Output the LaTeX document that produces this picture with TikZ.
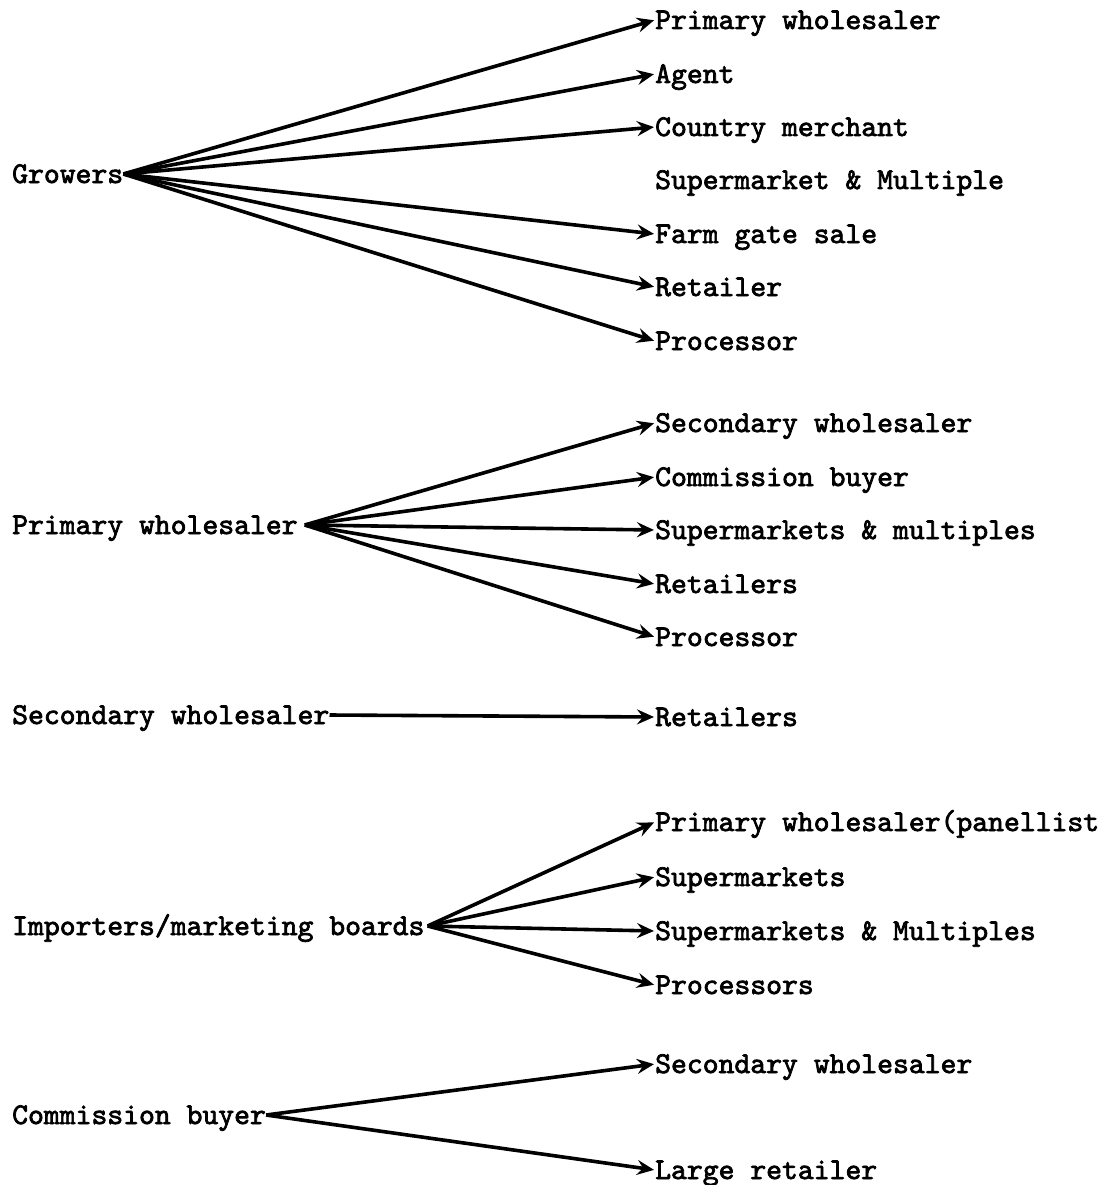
\documentclass[tikz,border=0pt]{standalone}
\usepackage{fontspec}
\newfontfamily\typewriter{lmmono10-regular.otf}[FakeBold=2.4]
\usetikzlibrary{arrows.meta}
\begin{document}
\begin{tikzpicture}[x=1pt,y=-1pt,
  every node/.style={font=\typewriter\fontsize{30.2pt}{34pt}\selectfont,
    inner sep=0pt, text height=18pt, text depth=0pt, anchor=base west},
  flow/.style={line width=3.6pt,
    -{Stealth[length=17pt,width=15pt,inset=6pt]}, shorten >=1pt}]
\useasboundingbox (0,0) rectangle (1106,1185);

% Growers
\node (g)   at (12,183)  {Growers};
\node (g1)  at (655,29)  {Primary wholesaler};
\node (g2)  at (655,83)  {Agent};
\node (g3)  at (655,136) {Country merchant};
\node (g4)  at (655,189) {Supermarket \& Multiple};
\node (g5)  at (655,243) {Farm gate sale};
\node (g6)  at (655,296) {Retailer};
\node (g7)  at (655,350) {Processor};
\foreach \t in {g1,g2,g3,g5,g6,g7}
  \draw[flow] (g.east) -- (\t.west);

% Primary wholesaler
\node (p)   at (12,534)  {Primary wholesaler};
\node (p1)  at (655,432) {Secondary wholesaler};
\node (p2)  at (655,486) {Commission buyer};
\node (p3)  at (655,539) {Supermarkets \& multiples};
\node (p4)  at (655,593) {Retailers};
\node (p5)  at (655,646) {Processor};
\foreach \t in {p1,p2,p3,p4,p5}
  \draw[flow] ([xshift=7pt]p.east) -- (\t.west);

% Secondary wholesaler
\node (s)   at (12,724)  {Secondary wholesaler};
\node (s1)  at (655,726) {Retailers};
\draw[flow] (s.east) -- (s1.west);

% Importers / marketing boards
\node (i)   at (12,935)  {Importers/marketing boards};
\node (i1)  at (655,831) {Primary wholesaler(panellist};
\node (i2)  at (655,886) {Supermarkets};
\node (i3)  at (655,940) {Supermarkets \& Multiples};
\node (i4)  at (655,994) {Processors};
\foreach \t in {i1,i2,i3,i4}
  \draw[flow] ([xshift=3pt]i.east) -- (\t.west);

% Commission buyer
\node (c)   at (12,1124)  {Commission buyer};
\node (c1)  at (655,1073) {Secondary wholesaler};
\node (c2)  at (655,1179) {Large retailer};
\foreach \t in {c1,c2}
  \draw[flow] (c.east) -- (\t.west);
\end{tikzpicture}
\end{document}
